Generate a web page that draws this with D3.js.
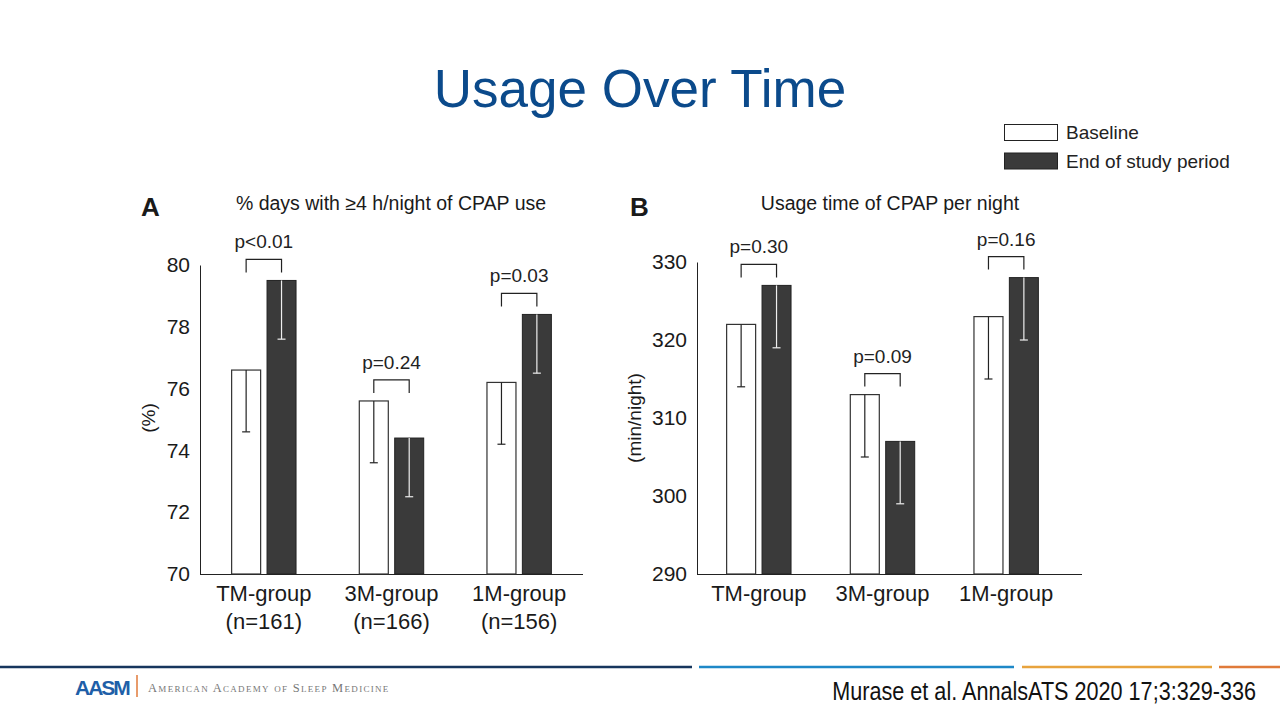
<!DOCTYPE html>
<html>
<head>
<meta charset="utf-8">
<script src="https://cdn.jsdelivr.net/npm/d3@7"></script>
<style>
  body { margin: 0; background: #fff; }
  svg { display: block; font-family: "Liberation Sans", Arial, sans-serif; }
</style>
</head>
<body>
<svg id="slide" width="1280" height="720"></svg>
<script>
// ---- data ----
var groups = ["TM-group", "3M-group", "1M-group"];
var groupN = ["(n=161)", "(n=166)", "(n=156)"];
var seriesNames = ["Baseline", "End of study period"];

// panel A: % days with >=4 h/night
var daysBaseline = [76.6, 75.6, 76.2];
var daysEnd = [79.5, 74.4, 78.4];
var daysErrBaseline = [2.0, 2.0, 2.0];
var daysErrEnd = [1.9, 1.9, 1.9];
var daysP = ["p<0.01", "p=0.24", "p=0.03"];
var daysTicks = [70, 72, 74, 76, 78, 80];

// panel B: usage time per night (min)
var timeBaseline = [322, 313, 323];
var timeEnd = [327, 307, 328];
var timeErrBaseline = [8, 8, 8];
var timeErrEnd = [8, 8, 8];
var timeP = ["p=0.30", "p=0.09", "p=0.16"];
var timeTicks = [290, 300, 310, 320, 330];

var dark = "#3a3a3a";
var svg = d3.select("#slide");

// title
svg.append("text")
   .attr("x", 640).attr("y", 107)
   .attr("text-anchor", "middle")
   .attr("font-size", 53)
   .attr("fill", "#0b4a8b")
   .text("Usage Over Time");

// legend
var legend = svg.append("g").attr("transform", "translate(1004,124)");
seriesNames.forEach(function(name, i){
    legend.append("rect")
          .attr("x", 0.5).attr("y", i*28.5 + 0.5)
          .attr("width", 53).attr("height", 16)
          .attr("fill", i == 0 ? "#fff" : dark)
          .attr("stroke", "#222").attr("stroke-width", 1);
    legend.append("text")
          .attr("x", 62).attr("y", i*28.5 + 15)
          .attr("font-size", 19).attr("fill", "#222")
          .text(name);
});

function drawPanel(opt){

    var x = d3.scaleBand()
              .domain(groups)
              .range([opt.left, opt.bandRight]);

    var y = d3.scaleLinear()
              .domain(d3.extent(opt.ticks))
              .range([574, opt.top]);

    var g = svg.append("g");

    // axes (no tick marks, just line + labels)
    var yAxis = d3.axisLeft(y).tickValues(opt.ticks).tickSize(0).tickPadding(10);
    var ya = g.append("g")
              .attr("transform", "translate(" + opt.left + ",0)")
              .call(yAxis);
    ya.select(".domain").attr("stroke", "#222");
    ya.selectAll("text")
      .attr("font-size", 21).attr("fill", "#1a1a1a")
      .attr("font-family", "'Liberation Sans', Arial, sans-serif");

    g.append("line")
     .attr("x1", opt.left).attr("x2", opt.axisRight)
     .attr("y1", y.range()[0] + 0.5).attr("y2", y.range()[0] + 0.5)
     .attr("stroke", "#222");

    // bars
    var barW = 29, gap = 3.2;
    var rows = groups.map(function(grp, i){
        return {grp: grp, base: opt.base[i], end: opt.end[i],
                eb: opt.errBase[i], ee: opt.errEnd[i], p: opt.p[i], n: opt.n ? opt.n[i] : null};
    });

    rows.forEach(function(d){
        var c = x(d.grp) + x.bandwidth()/2;
        var xb = c - gap - barW, xe = c + gap;

        g.append("rect")
         .attr("x", xb).attr("y", y(d.base))
         .attr("width", barW).attr("height", y.range()[0] - y(d.base))
         .attr("fill", "#fff").attr("stroke", "#333").attr("stroke-width", 1.2);
        g.append("rect")
         .attr("x", xe).attr("y", y(d.end))
         .attr("width", barW).attr("height", y.range()[0] - y(d.end))
         .attr("fill", dark).attr("stroke", "#222").attr("stroke-width", 1);

        // downward error bars
        g.append("line")
         .attr("x1", xb + barW/2).attr("x2", xb + barW/2)
         .attr("y1", y(d.base)).attr("y2", y(d.base - d.eb))
         .attr("stroke", "#222").attr("stroke-width", 1.2);
        g.append("line")
         .attr("x1", xb + barW/2 - 4).attr("x2", xb + barW/2 + 4)
         .attr("y1", y(d.base - d.eb)).attr("y2", y(d.base - d.eb))
         .attr("stroke", "#222").attr("stroke-width", 1.2);
        g.append("line")
         .attr("x1", xe + barW/2).attr("x2", xe + barW/2)
         .attr("y1", y(d.end)).attr("y2", y(d.end - d.ee))
         .attr("stroke", "#eee").attr("stroke-width", 1.2);
        g.append("line")
         .attr("x1", xe + barW/2 - 4).attr("x2", xe + barW/2 + 4)
         .attr("y1", y(d.end - d.ee)).attr("y2", y(d.end - d.ee))
         .attr("stroke", "#eee").attr("stroke-width", 1.2);

        // significance bracket
        var top = y(Math.max(d.base, d.end)) - 21;
        g.append("path")
         .attr("d", "M" + (xb + barW/2) + "," + (top + 13) + "V" + top +
                    "H" + (xe + barW/2) + "V" + (top + 13))
         .attr("fill", "none").attr("stroke", "#222").attr("stroke-width", 1.2);
        g.append("text")
         .attr("x", c).attr("y", top - 11)
         .attr("text-anchor", "middle").attr("font-size", 19).attr("fill", "#222")
         .text(d.p);

        // category labels
        g.append("text")
         .attr("x", c).attr("y", 601)
         .attr("text-anchor", "middle").attr("font-size", 22).attr("fill", "#1a1a1a")
         .text(d.grp);
        if (d.n)
            g.append("text")
             .attr("x", c).attr("y", 629)
             .attr("text-anchor", "middle").attr("font-size", 22).attr("fill", "#1a1a1a")
             .text(d.n);
    });

    // panel letter, title, y label
    g.append("text")
     .attr("x", opt.letterX).attr("y", 216)
     .attr("font-size", 26).attr("font-weight", "bold").attr("fill", "#1a1a1a")
     .text(opt.letter);
    g.append("text")
     .attr("x", opt.titleX).attr("y", 210)
     .attr("text-anchor", "middle").attr("font-size", 19.5).attr("fill", "#1a1a1a")
     .text(opt.title);
    g.append("text")
     .attr("transform", "translate(" + opt.ylabX + ",418) rotate(-90)")
     .attr("text-anchor", "middle").attr("font-size", 19).attr("fill", "#1a1a1a")
     .text(opt.ylab);
}

drawPanel({
    left: 200, bandRight: 583, axisRight: 583, top: 265,
    ticks: daysTicks, base: daysBaseline, end: daysEnd,
    errBase: daysErrBaseline, errEnd: daysErrEnd, p: daysP, n: groupN,
    letter: "A", letterX: 141, title: "% days with \u22654 h/night of CPAP use", titleX: 391,
    ylab: "(%)", ylabX: 155
});

drawPanel({
    left: 697, bandRight: 1068, axisRight: 1082, top: 262,
    ticks: timeTicks, base: timeBaseline, end: timeEnd,
    errBase: timeErrBaseline, errEnd: timeErrEnd, p: timeP, n: null,
    letter: "B", letterX: 630, title: "Usage time of CPAP per night", titleX: 890,
    ylab: "(min/night)", ylabX: 641
});

// footer rules
var rules = [[0, 692, "#17365d"], [699, 1014, "#1e88c7"], [1022, 1212, "#e8a33d"], [1219, 1280, "#e07a3a"]];
rules.forEach(function(r){
    svg.append("line")
       .attr("x1", r[0]).attr("x2", r[1]).attr("y1", 667).attr("y2", 667)
       .attr("stroke", r[2]).attr("stroke-width", 2.5);
});

// AASM logo block
svg.append("text")
   .attr("x", 75).attr("y", 695)
   .attr("font-size", 21).attr("font-weight", "bold").attr("fill", "#1f5fa8")
   .attr("letter-spacing", -2)
   .text("AASM");
svg.append("line")
   .attr("x1", 137).attr("x2", 137).attr("y1", 675).attr("y2", 697)
   .attr("stroke", "#e07a3a").attr("stroke-width", 1.5);
svg.append("text")
   .attr("x", 148).attr("y", 692)
   .attr("font-family", "'Liberation Serif', 'DejaVu Serif', serif")
   .attr("font-size", 12.5).attr("fill", "#777")
   .attr("letter-spacing", 1.3)
   .style("font-variant", "small-caps")
   .text("American Academy of Sleep Medicine");

// citation (condensed face)
svg.append("text")
   .attr("transform", "translate(1256,700) scale(0.865,1)")
   .attr("text-anchor", "end")
   .attr("font-size", 25).attr("fill", "#111")
   .text("Murase et al. AnnalsATS 2020 17;3:329-336");
</script>
</body>
</html>
